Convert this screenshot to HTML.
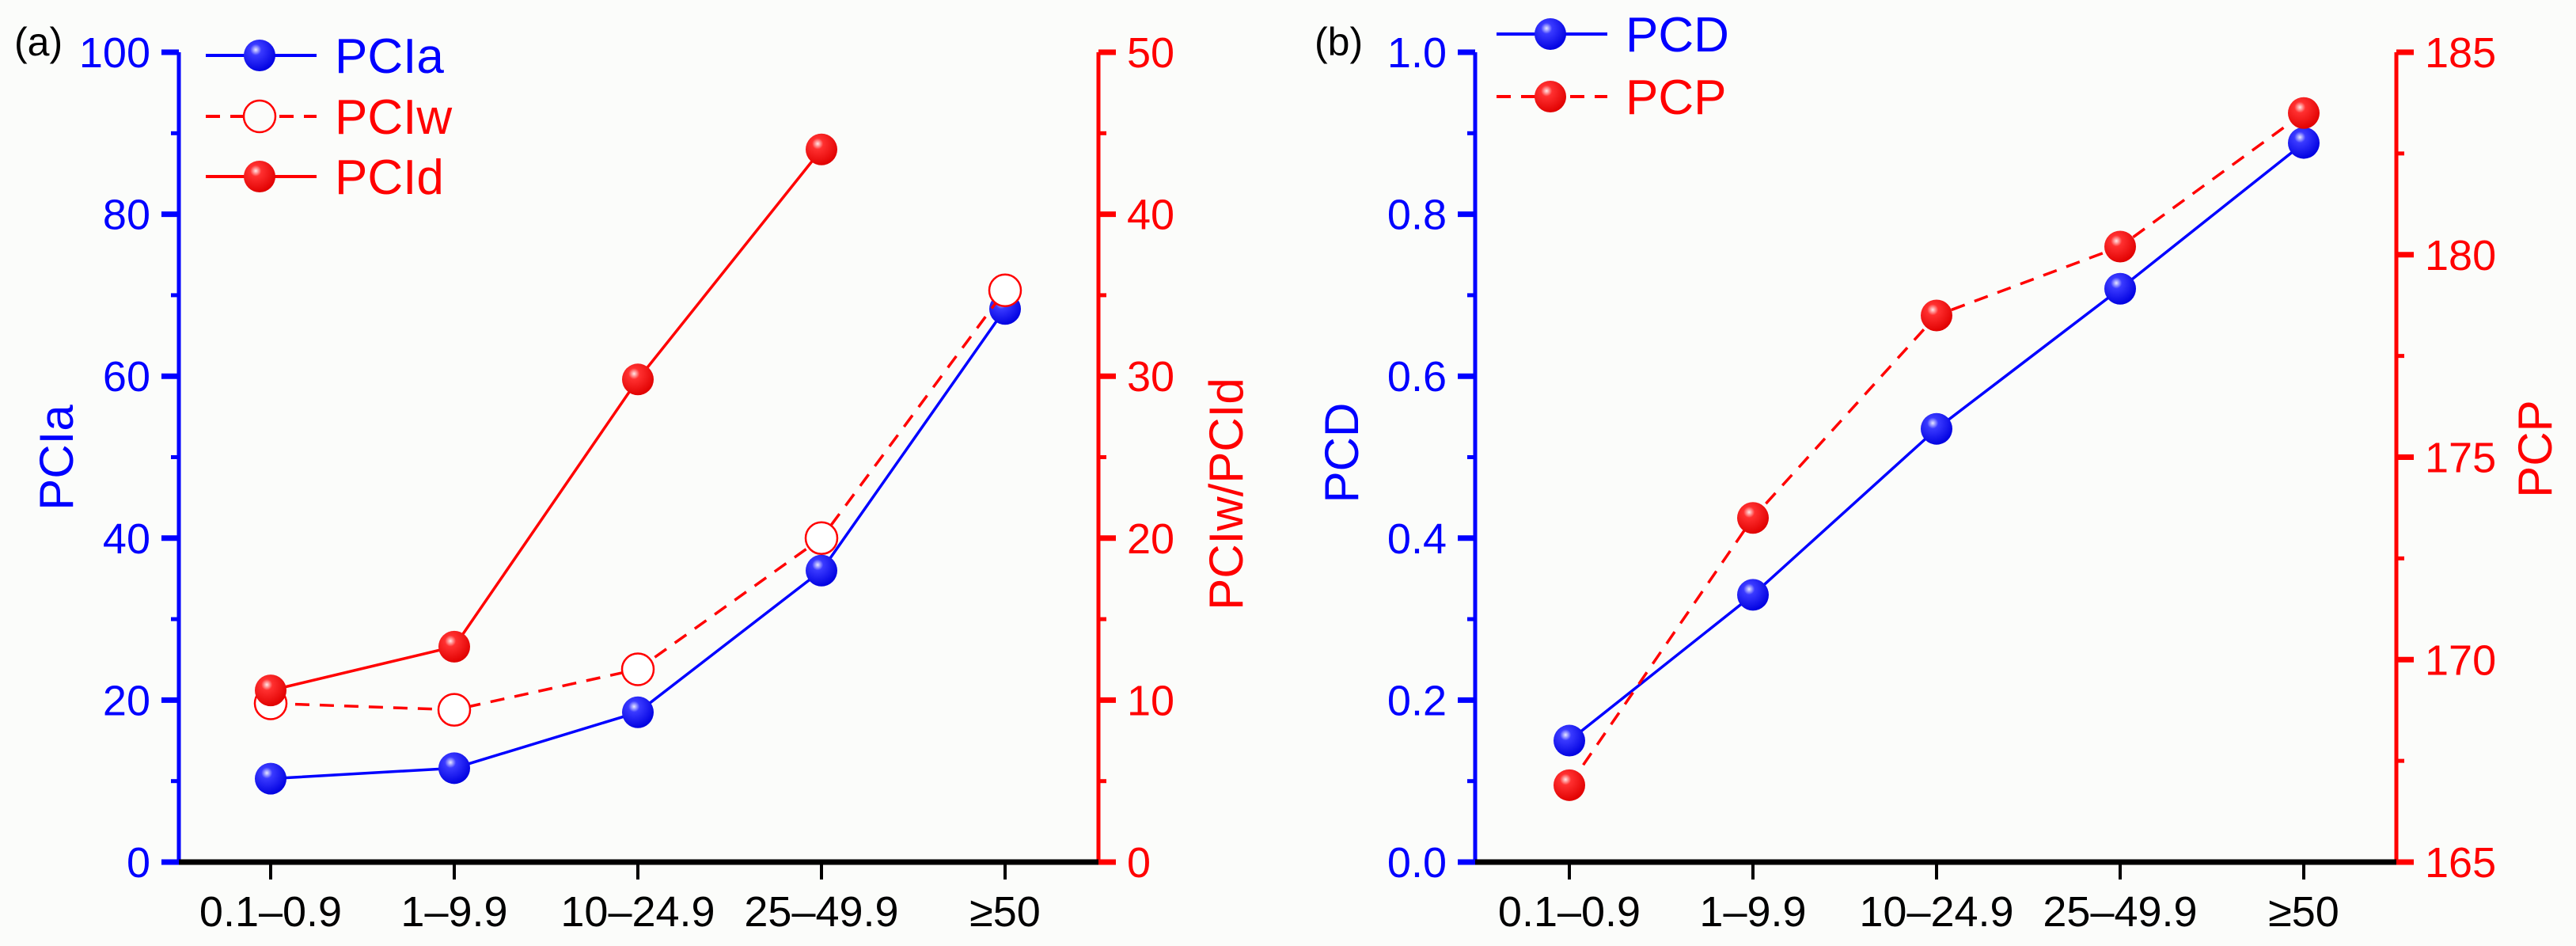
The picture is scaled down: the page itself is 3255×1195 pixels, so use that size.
<!DOCTYPE html>
<html><head><meta charset="utf-8"><style>
html,body{margin:0;padding:0;background:#fbfcfa;}
svg{display:block;font-family:"Liberation Sans",Arial,sans-serif;}
</style></head><body>
<svg id="chart" width="3255" height="1195" viewBox="0 0 3255 1195" xmlns="http://www.w3.org/2000/svg">
<defs>
<radialGradient id="gb" cx="0.38" cy="0.32" r="0.7"><stop offset="0" stop-color="#e8e8ff"/><stop offset="0.25" stop-color="#3a3aff"/><stop offset="1" stop-color="#0000e0"/></radialGradient>
<radialGradient id="gr" cx="0.38" cy="0.32" r="0.7"><stop offset="0" stop-color="#ffe8e8"/><stop offset="0.25" stop-color="#ff3030"/><stop offset="1" stop-color="#e00000"/></radialGradient>
</defs>
<g id="root"></g>
</svg>
<script>
const categories = ["0.1–0.9","1–9.9","10–24.9","25–49.9","≥50"];
const pcia = [10.3, 11.6, 18.5, 36.0, 68.3];
const pciw = [9.8, 9.4, 11.9, 20.0, 35.3];
const pcid = [10.6, 13.3, 29.8, 44.0, null];
const pcd = [0.15, 0.33, 0.535, 0.708, 0.888];
const pcp = [166.9, 173.5, 178.5, 180.2, 183.5];
const leftTicksA = [0,20,40,60,80,100];
const rightTicksA = [0,10,20,30,40,50];
const leftTicksB = ["0.0","0.2","0.4","0.6","0.8","1.0"];
const rightTicksB = [165,170,175,180,185];

const NS="http://www.w3.org/2000/svg";
const root=document.getElementById('root');
function mk(tag,attrs,parent){const e=document.createElementNS(NS,tag);for(const k in attrs)e.setAttribute(k,attrs[k]);(parent||root).appendChild(e);return e;}
const Y0=1089, Y1=66;

function panel(p){
  const g=mk('g',{});
  
  
  const xs=i=>p.x0+i*p.dx;
  const yl=v=>Y0-(v-p.lmin)/(p.lmax-p.lmin)*(Y0-Y1);
  const yr=v=>Y0-(v-p.rmin)/(p.rmax-p.rmin)*(Y0-Y1);
  // axes
  let a=mk('line',{x1:p.ax,y1:Y1,x2:p.ax,y2:Y0,stroke:'#0000ff','stroke-width':5},g);
  
  a=mk('line',{x1:p.bx,y1:Y1,x2:p.bx,y2:Y0,stroke:'#ff0000','stroke-width':5},g);
  
  a=mk('line',{x1:p.ax,y1:Y0,x2:p.bx,y2:Y0,stroke:'#000','stroke-width':7},g);
  
  // x ticks
  categories.forEach((c,i)=>{
    mk('line',{x1:xs(i),y1:Y0,x2:xs(i),y2:Y0+22,stroke:'#000','stroke-width':4},g);
    const t=mk('text',{x:xs(i),y:1170,'text-anchor':'middle','font-size':54,fill:'#000'},g);
    t.textContent=c;
    
  });
  // left ticks
  const lt=p.lticks, n=lt.length;
  lt.forEach((v,i)=>{
    const y=yl(parseFloat(v));
    mk('line',{x1:p.ax-22,y1:y,x2:p.ax,y2:y,stroke:'#0000ff','stroke-width':7},g);
    if(i<n-1){const ym=yl((parseFloat(v)+parseFloat(lt[i+1]))/2);mk('line',{x1:p.ax-10,y1:ym,x2:p.ax,y2:ym,stroke:'#0000ff','stroke-width':5},g);}
    const t=mk('text',{x:p.ax-36,y:y+19,'text-anchor':'end','font-size':54,fill:'#0000ff'},g);
    t.textContent=v;
    
  });
  const rt=p.rticks;
  rt.forEach((v,i)=>{
    const y=yr(v);
    mk('line',{x1:p.bx,y1:y,x2:p.bx+22,y2:y,stroke:'#ff0000','stroke-width':7},g);
    if(i<rt.length-1){const ym=yr((v+rt[i+1])/2);mk('line',{x1:p.bx,y1:ym,x2:p.bx+10,y2:ym,stroke:'#ff0000','stroke-width':5},g);}
    const t=mk('text',{x:p.bx+36,y:y+19,'text-anchor':'start','font-size':54,fill:'#ff0000'},g);
    t.textContent=String(v);
    
  });
  // titles
  let t=mk('text',{transform:`translate(${p.ltx},${p.lty}) rotate(-90)`,'text-anchor':'middle','font-size':60,fill:'#0000ff'},g);
  t.textContent=p.ltitle;
  t=mk('text',{transform:`translate(${p.rtx},${p.rty}) rotate(-90)`,'text-anchor':'middle','font-size':60,fill:'#ff0000'},g);
  t.textContent=p.rtitle;
  t=mk('text',{x:p.labx,y:70,'font-size':50,fill:'#000'},g);
  t.textContent=p.label;
  // series
  p.series.forEach((s,si)=>{
    const sc=s.axis==='l'?yl:yr;
    const sg=mk('g',{},g);
    
    const pts=[];s.vals.forEach((v,i)=>{if(v!==null)pts.push([xs(i),sc(v)]);});
    const pl=mk('polyline',{points:pts.map(q=>q.join(',')).join(' '),fill:'none',stroke:s.color,'stroke-width':3.5,'stroke-dasharray':s.dash?'18 13':'none'},sg);
    
    pts.forEach(q=>{
      const c=mk('ellipse',{cx:q[0],cy:q[1],rx:20,ry:20,fill:s.hollow?'#fff':s.fill,stroke:s.hollow?s.color:'none','stroke-width':2.5},sg);
      
    });
    // legend
    const ly=p.legY[si];
    const lg=mk('g',{},g);
    
    mk('line',{x1:p.legX,y1:ly,x2:p.legX+140,y2:ly,stroke:s.color,'stroke-width':4,'stroke-dasharray':s.dash?'18 13':'none'},lg);
    mk('ellipse',{cx:p.legX+68,cy:ly,rx:20,ry:20,fill:s.hollow?'#fbfcfa':s.fill,stroke:s.hollow?s.color:'none','stroke-width':2.5},lg);
    const lt2=mk('text',{x:p.legX+163,y:ly+22,'font-size':62,fill:s.color},lg);
    lt2.textContent=s.name;
  });
}
panel({name:'panel-a',label:'(a)',labx:18,x0:342,dx:232,ax:226,bx:1388,lmin:0,lmax:100,rmin:0,rmax:50,
  lticks:leftTicksA.map(String),rticks:rightTicksA,ltitle:'PCIa',ltx:92,lty:578,rtitle:'PCIw/PCId',rtx:1570,rty:624,
  legX:260,legY:[70,147,223],
  series:[{name:'PCIa',vals:pcia,axis:'l',color:'#0000ff',fill:'url(#gb)'},
          {name:'PCIw',vals:pciw,axis:'r',color:'#ff0000',dash:true,hollow:true},
          {name:'PCId',vals:pcid,axis:'r',color:'#ff0000',fill:'url(#gr)'}]});
panel({name:'panel-b',label:'(b)',labx:1661,x0:1983,dx:232,ax:1864,bx:3028,lmin:0,lmax:1,rmin:165,rmax:185,
  lticks:leftTicksB,rticks:rightTicksB,ltitle:'PCD',ltx:1716,lty:572,rtitle:'PCP',rtx:3224,rty:567,
  legX:1891,legY:[43,122],
  series:[{name:'PCD',vals:pcd,axis:'l',color:'#0000ff',fill:'url(#gb)'},
          {name:'PCP',vals:pcp,axis:'r',color:'#ff0000',dash:true,fill:'url(#gr)'}]});
</script>
</body></html>
